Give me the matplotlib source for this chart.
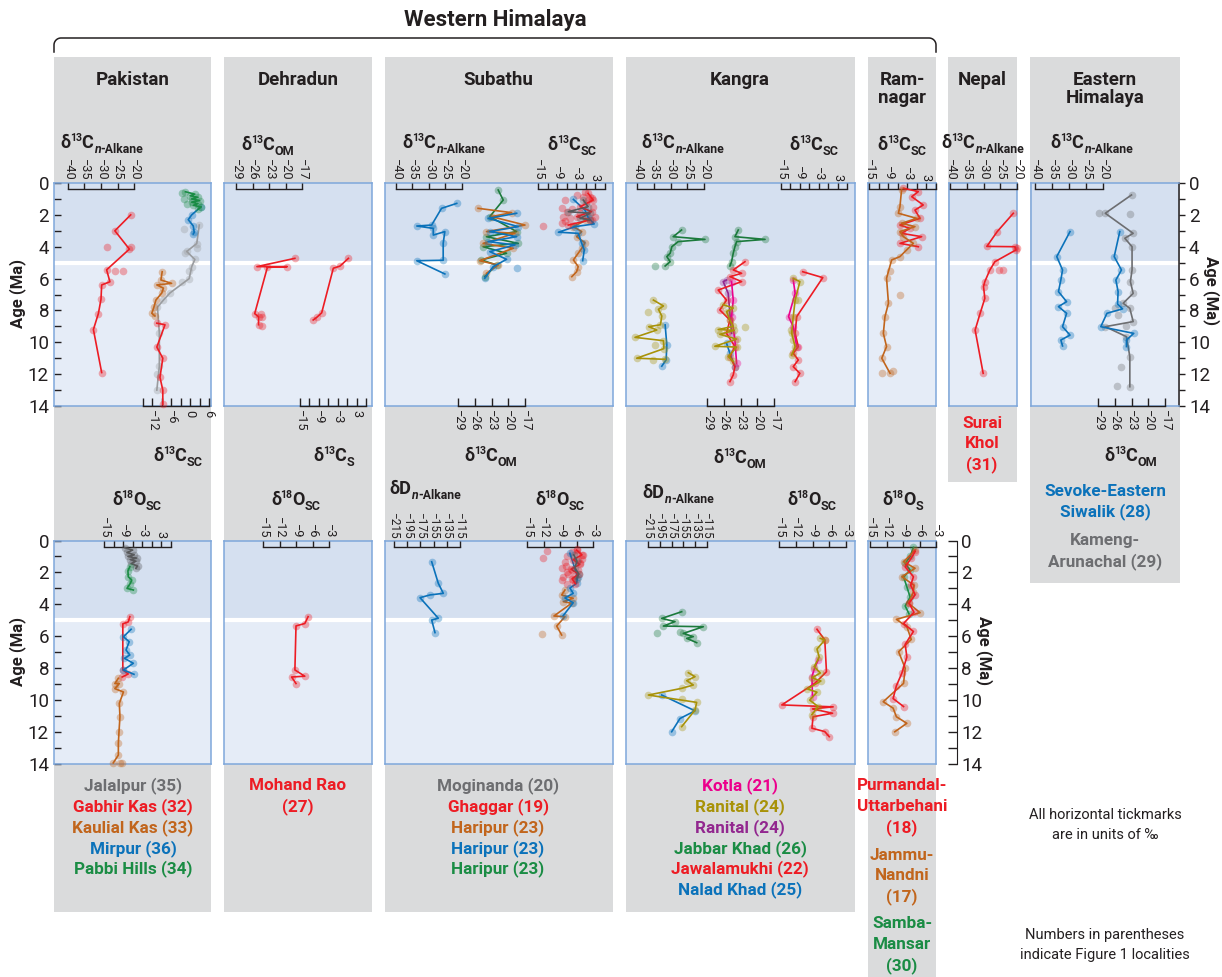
import matplotlib.pyplot as plt
from matplotlib.colors import to_rgba
import numpy as np

W, H = 1222, 977
PT = 0.72  # points per pixel at 100 dpi

plt.rcParams['font.family'] = ['Roboto', 'DejaVu Sans']

INK = '#231f20'
RED = '#ed1c24'
ORANGE = '#c1651c'
BLUE = '#0b72ba'
GREEN = '#1a8c44'
DKGREEN = '#1b7a3c'
GRAY = '#9a9c9f'
DKGRAY = '#58595b'
MIDGRAY = '#6d6e71'
MAGENTA = '#ec008c'
OLIVE = '#a89208'
PURPLE = '#92278f'
UPPER = '#d5e0f0'
LOWER = '#e5ecf7'
BORDER = '#7ea7db'
COLUMN = '#dadbdc'

# ---------------- upper row (carbon) ----------------
# Pakistan
PAK_GABHIR_NALK_AGE = [2.0, 3.0, 4.15, 5.45, 6.2, 6.4, 7.3, 8.2, 9.2, 11.9]
PAK_GABHIR_NALK_VAL = [-21.0, -25.8, -21.4, -28.3, -27.3, -29.8, -30.0, -30.8, -32.3, -29.8]
PAK_GABHIR_NALK_XAGE = [4.0, 4.0, 5.5, 5.5]
PAK_GABHIR_NALK_XVAL = [-28.3, -21.0, -23.2, -25.9]
PAK_JALALPUR_SC_AGE = [2.64, 3.8, 4.3, 4.8, 5.25, 6.0, 6.9, 7.35, 7.8, 9.4, 11.5, 13.0]
PAK_JALALPUR_SC_VAL = [2.9, 2.1, -1.1, 1.5, 0.5, -0.3, -6.4, -8.5, -10.4, -9.8, -9.8, -10.6]
PAK_JALALPUR_SC_XAGE = [2.9, 4.1, 4.4, 5.5, 6.2, 12.0]
PAK_JALALPUR_SC_XVAL = [-1.8, 2.1, -1.5, -0.5, -2.7, -10.6]
PAK_PABBI_SC_AGE = [0.55, 0.7, 0.8, 0.9, 1.0, 1.1, 1.2, 1.3, 1.4, 1.5, 1.65]
PAK_PABBI_SC_VAL = [-1.5, 1.5, 0.0, 2.5, 0.5, 3.0, 0.5, 2.5, 1.0, 3.5, 2.5]
PAK_PABBI_SC_XAGE = [0.6, 1.0, 1.3]
PAK_PABBI_SC_XVAL = [-2.5, -1.8, -1.0]
PAK_MIRPUR_SC_AGE = [1.5, 2.0, 2.3, 2.7, 3.1, 3.2]
PAK_MIRPUR_SC_VAL = [3.4, 0.5, -0.6, 1.0, 1.3, 1.0]
PAK_KAULIAL_SC_AGE = [5.57, 6.09, 6.3, 6.4, 6.6, 6.9, 7.35, 7.77, 8.18, 8.35]
PAK_KAULIAL_SC_VAL = [-8.9, -9.3, -5.9, -10.6, -8.5, -9.0, -10.9, -11.5, -12.2, -11.2]
PAK_GABHIR_SC_AGE = [8.8, 8.9, 10.3, 11.0, 12.2, 13.0, 13.9]
PAK_GABHIR_SC_VAL = [-10.6, -8.0, -10.6, -8.7, -9.6, -8.7, -8.7]

# Dehradun
DEH_MOHAND_OM_AGE = [4.73, 5.25, 5.25, 5.3, 8.2, 8.4, 8.9]
DEH_MOHAND_OM_VAL = [-18.3, -25.2, -19.7, -23.3, -25.6, -24.9, -24.9]
DEH_MOHAND_OM_XAGE = [8.2, 8.4, 9.0]
DEH_MOHAND_OM_XVAL = [-24.5, -24.3, -24.3]
DEH_MOHAND_S_AGE = [4.73, 5.22, 5.35, 8.15, 8.44, 8.6]
DEH_MOHAND_S_VAL = [0.4, -2.3, -4.4, -8.1, -9.7, -10.8]

# Subathu
SUB_HARIPUR_B_NALK_AGE = [1.28, 1.59, 2.64, 2.70, 2.85, 3.27, 3.05, 3.79, 4.85, 4.88, 5.71]
SUB_HARIPUR_B_NALK_VAL = [-21.6, -26.2, -29.2, -33.7, -28.7, -28.7, -25.2, -25.7, -25.7, -33.7, -25.2]
SUB_HARIPUR_G_OM_AGE = [0.44, 1.07, 2.11, 3.05, 3.37, 3.79, 4.00, 4.41, 4.83, 5.15, 5.88]
SUB_HARIPUR_G_OM_VAL = [-21.8, -20.9, -23.3, -18.5, -23.9, -18.2, -24.5, -20.3, -24.8, -22.1, -24.2]
SUB_HARIPUR_O_OM_AGE = [1.59, 1.86, 2.11, 2.64, 3.05, 3.16, 3.79, 4.10, 4.88, 5.15, 5.67]
SUB_HARIPUR_O_OM_VAL = [-25.4, -19.4, -23.0, -17.0, -23.9, -18.8, -24.5, -19.1, -25.1, -21.8, -23.9]
SUB_HARIPUR_B_OM_AGE = [1.90, 2.22, 2.74, 3.05, 3.37, 3.68, 3.89, 4.31, 4.79, 5.25, 5.98]
SUB_HARIPUR_B_OM_VAL = [-18.5, -23.6, -18.2, -23.3, -18.5, -23.6, -18.8, -23.3, -20.3, -22.7, -24.2]
SUB_HARIPUR_B_OM_XAGE = [5.36]
SUB_HARIPUR_B_OM_XVAL = [-18.4]
SUB_GHAGGAR_SC_AGE = [0.65, 1.07, 1.49, 1.80, 2.11, 2.32, 2.64]
SUB_GHAGGAR_SC_VAL = [0.7, 2.3, -1.8, 1.8, -2.9, 1.3, -5.5]
SUB_GHAGGAR_SC_XAGE = [0.54, 0.75, 0.86, 0.86, 1.07, 1.28, 1.49, 1.59, 1.80, 1.90, 2.01, 2.11,
                       2.11, 2.53, 2.64, 2.70, 1.07, 2.32, 2.22, 0.95, 1.65, 2.4]
SUB_GHAGGAR_SC_XVAL = [-0.3, -2.9, -0.8, 1.3, -6.5, 0.2, 2.3, -7.6, -6.0, -1.8, 0.2, 2.9,
                       -7.1, -7.6, -3.9, -13.3, 0.7, 1.8, -4.9, 1.8, -4.5, -6.5]
SUB_MOGINANDA_SC_AGE = [1.07, 1.49, 1.80, 1.90, 2.22, 2.32]
SUB_MOGINANDA_SC_VAL = [-0.8, 0.7, -5.5, 1.3, -1.8, 1.3]
SUB_HARIPUR_B_SC_AGE = [1.03, 1.70, 2.15, 2.57, 2.74, 3.09, 3.16, 3.79, 4.20, 4.88]
SUB_HARIPUR_B_SC_VAL = [-3.9, -0.3, 0.7, 2.6, -3.4, -8.6, -2.4, -1.3, -0.5, -1.0]
SUB_HARIPUR_O_SC_AGE = [2.32, 2.74, 3.05, 3.37, 3.75, 4.10, 4.41, 4.83, 5.25, 5.57, 5.88]
SUB_HARIPUR_O_SC_VAL = [0.2, -3.9, -1.3, -2.9, -0.3, -1.3, -2.4, -3.9, -2.4, -2.9, -4.4]

# Kangra
KAN_JABBAR_NALK_AGE = [2.95, 3.37, 3.54, 3.68, 4.00, 4.41, 4.62, 4.94, 5.21]
KAN_JABBAR_NALK_VAL = [-26.7, -29.2, -19.7, -27.7, -29.6, -30.1, -31.1, -30.1, -31.6]
KAN_JABBAR_NALK_XAGE = [5.19]
KAN_JABBAR_NALK_XVAL = [-34.6]
KAN_RANITAL_NALK_AGE = [7.35, 7.72, 7.93, 8.35, 8.9, 9.02, 9.23, 9.69, 9.9, 10.4, 11.0, 11.07]
KAN_RANITAL_NALK_VAL = [-35.1, -32.1, -33.6, -32.6, -33.0, -36.5, -34.1, -40.6, -32.1, -32.0, -40.1, -31.6]
KAN_RANITAL_NALK_XAGE = [8.07, 10.16, 11.1]
KAN_RANITAL_NALK_XVAL = [-36.6, -34.6, -35.1]
KAN_NALAD_NALK_AGE = [8.91, 10.16, 11.1, 11.5]
KAN_NALAD_NALK_VAL = [-31.6, -31.1, -31.3, -32.6]
KAN_JABBAR_OM_AGE = [2.95, 3.37, 3.54, 3.68, 4.00, 4.41, 4.94, 5.21]
KAN_JABBAR_OM_VAL = [-23.4, -24.0, -18.6, -23.7, -24.0, -24.3, -24.6, -24.9]
KAN_JAWALA_OM_AGE = [4.94, 5.46, 5.67, 5.88, 6.19, 6.72, 7.35, 7.97, 8.6, 9.44, 10.27, 10.9, 11.53, 12.05, 12.47]
KAN_JAWALA_OM_VAL = [-22.2, -24.3, -22.8, -24.9, -22.8, -27.0, -25.5, -26.7, -24.9, -25.5, -24.0, -24.9, -24.0, -24.3, -24.9]
KAN_RANITAL_P_OM_AGE = [6.09, 6.19, 6.93, 8.18, 9.44]
KAN_RANITAL_P_OM_VAL = [-25.5, -26.1, -25.2, -24.9, -24.6]
KAN_KOTLA_OM_AGE = [6.19, 7.35, 8.39, 9.86, 11.32]
KAN_KOTLA_OM_VAL = [-24.6, -24.3, -24.6, -24.0, -23.7]
KAN_RANITAL_OM_AGE = [7.64, 7.85, 8.07, 8.6, 9.0, 9.2, 9.25, 9.5, 9.8, 10.25, 10.3, 10.9, 11.2]
KAN_RANITAL_OM_VAL = [-26.1, -24.3, -25.5, -24.9, -24.3, -27.0, -24.1, -26.7, -23.7, -27.6, -23.7, -25.2, -24.3]
KAN_RANITAL_OM_XAGE = [9.02]
KAN_RANITAL_OM_XVAL = [-22.2]
KAN_NALAD_OM_AGE = [10.06, 10.69, 11.53]
KAN_NALAD_OM_VAL = [-25.5, -24.9, -24.0]
KAN_JAWALA_SC_AGE = [5.57, 5.94, 8.39, 9.44, 10.27, 10.69, 11.11, 11.53, 11.95, 12.47]
KAN_JAWALA_SC_VAL = [-8.1, -1.7, -10.0, -10.5, -9.5, -11.1, -9.5, -11.1, -9.0, -10.5]
KAN_KOTLA_SC_AGE = [6.09, 6.93, 8.39, 9.02, 10.27]
KAN_KOTLA_SC_VAL = [-11.1, -10.5, -12.6, -11.1, -10.0]
KAN_RANITAL_SC_AGE = [5.99, 6.19, 7.35, 8.39, 9.44, 10.27, 10.8]
KAN_RANITAL_SC_VAL = [-11.1, -9.0, -10.5, -11.1, -11.6, -10.5, -11.6]
KAN_RANITAL_SC_XAGE = [7.35, 9.2, 9.86]
KAN_RANITAL_SC_XVAL = [-9.5, -11.9, -11.1]

# Ramnagar
RAM_PURMANDAL_SC_AGE = [0.33, 0.54, 0.86, 1.38, 1.70, 2.22, 2.64, 2.85, 3.16, 3.37, 3.79, 4.00]
RAM_PURMANDAL_SC_VAL = [-4.2, 0.45, -1.6, 2.0, -0.6, 1.0, -5.3, -2.2, -4.8, 1.5, -5.3, 0.45]
RAM_JAMMU_SC_AGE = [0.44, 1.49, 1.90, 2.22, 2.53, 2.74, 3.05, 3.37, 3.79, 4.20, 4.62, 4.83,
                    5.98, 7.55, 8.39, 9.44, 10.27, 11.0, 11.95]
RAM_JAMMU_SC_VAL = [-4.8, -5.3, -5.8, -0.05, -4.8, -0.6, -5.3, -4.2, -1.1, -3.2, -5.3, -7.9,
                    -9.5, -8.9, -10.0, -10.5, -9.5, -11.0, -8.4]
RAM_JAMMU_SC_XAGE = [5.5, 7.0, 11.8, 11.95]
RAM_JAMMU_SC_XVAL = [-8.4, -5.3, -7.4, -11.0]

# Nepal
NEP_SURAI_NALK_AGE = [1.9, 3.05, 3.98, 4.0, 4.2, 4.94, 5.46, 6.19, 6.5, 7.24, 8.18, 9.23, 11.95]
NEP_SURAI_NALK_VAL = [-21.1, -25.9, -29.0, -20.6, -20.3, -26.6, -28.1, -29.6, -30.0, -29.6, -31.0, -32.5, -30.1]
NEP_SURAI_NALK_XAGE = [5.46, 5.46, 4.1]
NEP_SURAI_NALK_XVAL = [-24.1, -25.5, -20.0]

# Eastern Himalaya
EAS_SEVOKE_NALK_AGE = [3.05, 4.62, 5.46, 6.09, 6.82, 7.45, 7.76, 8.18, 9.02, 9.55, 9.86, 10.23]
EAS_SEVOKE_NALK_VAL = [-29.7, -33.6, -31.9, -32.4, -33.1, -30.7, -33.1, -30.7, -31.9, -29.7, -32.4, -31.9]
EAS_SEVOKE_OM_AGE = [3.05, 4.62, 5.46, 6.09, 6.82, 7.6, 7.9, 8.18, 9.02, 9.44, 9.86, 10.27]
EAS_SEVOKE_OM_VAL = [-25.1, -26.1, -24.8, -25.8, -25.4, -25.5, -24.6, -27.4, -28.5, -22.6, -23.9, -23.9]
EAS_KAMENG_OM_AGE = [0.75, 1.9, 3.16, 3.47, 4.0, 5.46, 6.19, 6.93, 7.55, 7.87, 8.7, 9.02, 9.65, 10.9, 12.79]
EAS_KAMENG_OM_VAL = [-23.0, -27.7, -22.7, -24.2, -22.9, -22.9, -23.2, -22.7, -24.5, -23.3, -22.7, -27.7, -23.9, -23.3, -23.3]
EAS_KAMENG_OM_XAGE = [1.9, 1.94, 7.87, 8.28, 11.53, 12.75, 9.0]
EAS_KAMENG_OM_XVAL = [-28.9, -23.3, -26.0, -25.4, -24.8, -25.6, -24.0]

# ---------------- lower row (oxygen and hydrogen) ----------------
PAK_JALALPUR_O18_AGE = [0.45, 0.6, 0.75, 0.9, 1.0, 1.1, 1.2, 1.3, 1.45, 1.6, 1.75]
PAK_JALALPUR_O18_VAL = [-8.5, -6.0, -7.8, -5.5, -7.5, -4.8, -6.8, -5.0, -6.5, -4.5, -5.0]
PAK_PABBI_O18_AGE = [1.64, 1.9, 2.27, 2.48, 2.7, 3.0, 3.1]
PAK_PABBI_O18_VAL = [-6.9, -7.5, -7.4, -6.3, -6.8, -7.8, -5.8]
PAK_GABHIR_O18_AGE = [4.77, 5.1, 5.22, 8.11, 8.36, 8.55]
PAK_GABHIR_O18_VAL = [-6.9, -7.4, -9.1, -9.1, -7.4, -9.3]
PAK_MIRPUR_O18_AGE = [5.56, 6.03, 6.34, 6.86, 7.17, 7.38, 7.69, 8.11, 8.38]
PAK_MIRPUR_O18_VAL = [-6.5, -8.9, -7.1, -8.1, -6.9, -8.6, -5.8, -8.9, -5.6]
PAK_KAULIAL_O18_AGE = [8.63, 8.96, 8.96, 9.28, 9.49, 10.2, 11.04, 11.98, 12.7, 13.44, 13.93]
PAK_KAULIAL_O18_VAL = [-10.5, -11.6, -10.2, -11.6, -8.9, -10.2, -10.0, -10.3, -10.5, -10.5, -12.1]
PAK_KAULIAL_O18_XAGE = [13.96, 13.96]
PAK_KAULIAL_O18_XVAL = [-9.3, -10.1]

DEH_MOHAND_O18_AGE = [4.77, 5.2, 5.35, 8.11, 8.5, 8.55, 8.96]
DEH_MOHAND_O18_VAL = [-6.8, -7.4, -9.0, -9.2, -7.4, -9.8, -9.0]

SUB_HARIPUR_B_DD_AGE = [1.33, 2.68, 3.31, 3.41, 3.58, 4.87, 4.98, 5.77]
SUB_HARIPUR_B_DD_VAL = [-157.9, -147.9, -140.3, -160.5, -175.6, -147.9, -157.9, -152.9]
SUB_GHAGGAR_O18_AGE = [0.6, 0.9, 1.2, 1.5, 1.8, 2.1, 2.4, 2.7]
SUB_GHAGGAR_O18_VAL = [-6.0, -5.0, -6.6, -5.4, -7.0, -5.6, -6.8, -6.2]
SUB_GHAGGAR_O18_XAGE = [0.64, 1.08, 1.7, 2.28, 1.15, 1.0, 0.8, 1.44, 2.5, 1.86, 2.07, 2.2,
                        1.33, 1.86, 2.7, 0.7, 0.9, 2.5, 1.6, 2.0, 1.2, 0.55]
SUB_GHAGGAR_O18_XVAL = [-11.4, -12.1, -8.7, -8.4, -5.0, -7.8, -6.0, -5.4, -8.7, -6.9, -7.5, -6.3,
                        -8.1, -5.8, -7.8, -6.9, -4.8, -6.6, -8.0, -7.8, -5.8, -5.9]
SUB_MOGINANDA_O18_AGE = [0.9, 1.3, 1.7, 2.1, 2.4]
SUB_MOGINANDA_O18_VAL = [-6.5, -5.9, -6.3, -5.6, -6.0]
SUB_HARIPUR_B_O18_AGE = [0.8, 2.28, 2.69, 2.98, 3.31, 3.6, 3.9, 4.7]
SUB_HARIPUR_B_O18_VAL = [-7.2, -5.8, -6.0, -7.2, -6.6, -8.1, -6.6, -8.4]
SUB_HARIPUR_O_O18_AGE = [3.1, 3.41, 3.62, 3.83, 3.93, 4.73, 4.77, 5.36, 5.92]
SUB_HARIPUR_O_O18_VAL = [-8.1, -8.7, -6.6, -8.4, -6.9, -10.1, -8.1, -9.6, -8.7]
SUB_HARIPUR_O_O18_XAGE = [5.88]
SUB_HARIPUR_O_O18_XVAL = [-12.3]

KAN_JABBAR_DD_AGE = [4.46, 4.88, 5.08, 5.36, 5.4, 5.82, 6.02, 6.13, 6.4]
KAN_JABBAR_DD_VAL = [-157.9, -191.8, -169.2, -189.0, -121.2, -155.2, -138.2, -149.4, -132.5]
KAN_JABBAR_DD_XAGE = [5.78, 5.72]
KAN_JABBAR_DD_XVAL = [-200.3, -160.8]
KAN_RANITAL_DD_AGE = [8.28, 8.53, 8.78, 9.05, 9.26, 9.68, 10.14, 10.62, 11.66]
KAN_RANITAL_DD_VAL = [-146.6, -135.3, -149.4, -138.2, -157.9, -214.4, -132.5, -135.3, -157.9]
KAN_RANITAL_DD_XAGE = [9.9]
KAN_RANITAL_DD_XVAL = [-158.0]
KAN_NALAD_DD_AGE = [9.68, 10.67, 11.15, 11.98]
KAN_NALAD_DD_VAL = [-191.8, -135.3, -160.8, -174.9]
KAN_JAWALA_O18_AGE = [5.56, 6.23, 8.22, 8.95, 10.3, 10.42, 10.55, 10.82, 11.04, 11.76, 11.97, 12.29]
KAN_JAWALA_O18_VAL = [-8.2, -6.8, -6.5, -8.6, -14.5, -5.3, -9.0, -5.4, -8.9, -9.1, -6.8, -6.0]
KAN_KOTLA_O18_AGE = [7.5, 8.07, 8.53, 9.79]
KAN_KOTLA_O18_VAL = [-8.0, -8.7, -9.1, -9.0]
KAN_RANITAL_O18_AGE = [6.13, 6.23, 6.8, 7.3, 7.9, 8.3, 8.6, 8.8, 9.3, 9.5, 10.0, 10.4, 10.9]
KAN_RANITAL_O18_VAL = [-7.6, -6.8, -8.2, -7.8, -8.7, -7.6, -9.1, -7.5, -9.9, -8.2, -9.5, -8.0, -9.1]

RAM_SAMBA_O18_AGE = [0.43, 1.0, 1.44, 1.86, 2.28, 2.9, 3.55, 4.1, 4.6]
RAM_SAMBA_O18_VAL = [-7.1, -7.7, -8.6, -7.7, -8.9, -8.3, -7.7, -8.6, -7.9]
RAM_JAMMU_O18_AGE = [0.6, 1.33, 1.74, 2.27, 2.8, 3.2, 3.93, 4.52, 4.94, 5.4, 6.2, 6.97, 8.0,
                     8.95, 10.1, 10.5, 11.04, 11.45, 11.98]
RAM_JAMMU_O18_VAL = [-6.8, -8.9, -6.8, -9.2, -7.0, -7.1, -8.0, -5.9, -10.2, -8.3, -7.5, -9.8, -8.6,
                     -8.9, -12.6, -10.8, -10.2, -8.3, -10.5]
RAM_PURMANDAL_O18_AGE = [0.69, 1.1, 1.65, 2.27, 2.8, 3.4, 3.93, 4.5, 5.2, 5.7, 6.5, 7.3, 8.3, 9.1, 9.9, 10.4]
RAM_PURMANDAL_O18_VAL = [-6.8, -7.5, -8.6, -7.1, -7.6, -6.8, -7.9, -7.0, -8.9, -7.1, -8.6, -8.3, -9.2, -10.2, -10.8, -8.9]

# tick sets for the isotope scales
NALK_TICKS = [-40, -35, -30, -25, -20]
OM_TICKS = [-29, -26, -23, -20, -17]
SC_TICKS = [-15, -12, -9, -6, -3, 0, 3, 6]
SC_LABELS = [-15, -9, -3, 3]
SC_LABELS_ALT = [-12, -6, 0, 6]
O18_TICKS = [-15, -12, -9, -6, -3]
DD_TICKS = [-215, -195, -175, -155, -135, -115]

# locality names under each column
PAK_NAMES = [('Jalalpur (35)', MIDGRAY), ('Gabhir Kas (32)', RED), ('Kaulial Kas (33)', ORANGE),
             ('Mirpur (36)', BLUE), ('Pabbi Hills (34)', GREEN)]
DEH_NAMES = [('Mohand Rao', RED), ('(27)', RED)]
SUB_NAMES = [('Moginanda (20)', MIDGRAY), ('Ghaggar (19)', RED), ('Haripur (23)', ORANGE),
             ('Haripur (23)', BLUE), ('Haripur (23)', GREEN)]
KAN_NAMES = [('Kotla (21)', MAGENTA), ('Ranital (24)', OLIVE), ('Ranital (24)', PURPLE),
             ('Jabbar Khad (26)', GREEN), ('Jawalamukhi (22)', RED), ('Nalad Khad (25)', BLUE)]
RAM_NAMES_A = [('Purmandal-', RED), ('Uttarbehani', RED), ('(18)', RED)]
RAM_NAMES_B = [('Jammu-', ORANGE), ('Nandni', ORANGE), ('(17)', ORANGE)]
RAM_NAMES_C = [('Samba-', GREEN), ('Mansar', GREEN), ('(30)', GREEN)]
NEP_NAMES = [('Surai', RED), ('Khol', RED), ('(31)', RED)]
EAS_NAMES_A = [('Sevoke-Eastern', BLUE), ('Siwalik (28)', BLUE)]
EAS_NAMES_B = [('Kameng-', MIDGRAY), ('Arunachal (29)', MIDGRAY)]

fig = plt.figure(figsize=(W / 100, H / 100), dpi=100)
canvas = fig.add_axes([0, 0, 1, 1])
canvas.set_xlim(0, W)
canvas.set_ylim(H, 0)
canvas.axis('off')


def fig_box(x0, y0, x1, y1):
    return [x0 / W, 1 - y1 / H, (x1 - x0) / W, (y1 - y0) / H]


TOP = (183, 406)
BOT = (540.5, 764)

# grey columns behind each locality
for x0, x1, y1 in [(54, 211, 912), (224, 372, 912), (385, 613, 912), (626, 855, 912),
                   (868, 936, 977), (948, 1017, 482), (1030, 1180, 583)]:
    canvas.add_patch(plt.Rectangle((x0, 57), x1 - x0, y1 - 57, color=COLUMN, lw=0))


def panel(x0, x1, yr, side=None):
    ax = fig.add_axes(fig_box(x0, yr[0], x1, yr[1]))
    ax.set_xlim(0, 1)
    ax.set_ylim(14, 0)
    ax.set_facecolor(LOWER)
    ax.axhspan(0, 5, color=UPPER, lw=0)
    ax.axhline(5, color='white', lw=3)
    for s in ax.spines.values():
        s.set_color(BORDER)
        s.set_linewidth(1.1)
    ax.set_xticks([])
    if side is None:
        ax.set_yticks([])
        return ax
    ax.set_yticks(range(0, 15, 2))
    ax.set_yticks(range(1, 14, 2), minor=True)
    if side == 'left':
        ax.tick_params(axis='y', which='both', direction='in', length=7 * PT, width=1.0,
                       color=INK, labelsize=13.5, labelcolor=INK, pad=5 * PT)
    else:
        ax.yaxis.tick_right()
        ax.spines['right'].set_color(INK)
        ax.tick_params(axis='y', which='both', direction='out', length=6 * PT, width=1.0,
                       color=INK, labelsize=13.5, labelcolor=INK, pad=4 * PT)
    return ax


def scale(x0, x1, yr, lo, hi, ticks, shown, side):
    ax = fig.add_axes(fig_box(x0, yr[0], x1, yr[1]))
    ax.set_xlim(lo, hi)
    ax.set_ylim(14, 0)
    ax.patch.set_visible(False)
    for name, s in ax.spines.items():
        s.set_visible(name == side)
    ax.spines[side].set_color(INK)
    ax.spines[side].set_linewidth(1.0)
    ax.set_yticks([])
    if side == 'top':
        ax.xaxis.tick_top()
        ax.spines['top'].set_position(('outward', -6 * PT))
    ax.set_xticks(ticks)
    ax.set_xticklabels([f'{t}'.replace('-', '\u2212') if t in shown else '' for t in ticks])
    fs = 8.5 if lo < -100 else 9.2
    if side == 'top':
        ax.tick_params(axis='x', direction='out', length=6 * PT, width=1.0, color=INK,
                       labelsize=fs, labelcolor=INK, pad=1.5, labelrotation=270)
    else:
        ax.tick_params(axis='x', direction='in', length=8 * PT, width=1.0, color=INK,
                       labelsize=fs, labelcolor=INK, pad=3, labelrotation=270)
    return ax


def trace(ax, ages, vals, color, lw=1.2):
    ax.plot(vals, ages, color=color, lw=lw, marker='o', ms=5.5,
            mfc=to_rgba(color, 0.35), mec='none', clip_on=False, zorder=3)


def dots(ax, ages, vals, color):
    ax.plot(vals, ages, ls='none', marker='o', ms=5.5,
            mfc=to_rgba(color, 0.35), mec='none', clip_on=False, zorder=2)


TITLES = []


def iso_title(cx, base, sup, elem, sub, size=13, italic_n=False):
    t0 = canvas.text(cx, base, '\u03b4', fontsize=size, weight='bold', color=INK,
                     ha='left', va='baseline')
    pieces = [(sup, size * 0.58, size * 0.5, 'normal', -0.6), (elem, size, 0, 'normal', -0.2)]
    if italic_n:
        pieces += [('n', size * 0.68, -size * 0.2, 'italic', 0.2),
                   ('-Alkane', size * 0.68, -size * 0.2, 'normal', 0.1)]
    else:
        pieces += [(sub, size * 0.7, -size * 0.2, 'normal', 0.2)]
    group = [t0]
    prev = t0
    for txt, fs, dy, style, dx in pieces:
        t = canvas.annotate(txt, xy=(1, 0), xycoords=(prev, t0), xytext=(dx, dy),
                            textcoords='offset points', fontsize=fs, weight='bold',
                            style=style, color=INK, ha='left', va='bottom')
        group.append(t)
        prev = t
    TITLES.append((group, cx))


# ---------- upper row ----------
panel(54, 211, TOP, side='left')
ax = scale(68, 134, TOP, -40, -20, NALK_TICKS, NALK_TICKS, 'top')
trace(ax, PAK_GABHIR_NALK_AGE, PAK_GABHIR_NALK_VAL, RED)
dots(ax, PAK_GABHIR_NALK_XAGE, PAK_GABHIR_NALK_XVAL, RED)
ax = scale(143, 209, TOP, -15, 6, SC_TICKS, SC_LABELS_ALT, 'bottom')
trace(ax, PAK_JALALPUR_SC_AGE, PAK_JALALPUR_SC_VAL, GRAY)
dots(ax, PAK_JALALPUR_SC_XAGE, PAK_JALALPUR_SC_XVAL, GRAY)
trace(ax, PAK_KAULIAL_SC_AGE, PAK_KAULIAL_SC_VAL, ORANGE)
trace(ax, PAK_GABHIR_SC_AGE, PAK_GABHIR_SC_VAL, RED)
trace(ax, PAK_MIRPUR_SC_AGE, PAK_MIRPUR_SC_VAL, BLUE)
trace(ax, PAK_PABBI_SC_AGE, PAK_PABBI_SC_VAL, GREEN)
dots(ax, PAK_PABBI_SC_XAGE, PAK_PABBI_SC_XVAL, GREEN)

panel(224, 372, TOP)
ax = scale(236, 302, TOP, -29, -17, OM_TICKS, OM_TICKS, 'top')
trace(ax, DEH_MOHAND_OM_AGE, DEH_MOHAND_OM_VAL, RED)
dots(ax, DEH_MOHAND_OM_XAGE, DEH_MOHAND_OM_XVAL, RED)
ax = scale(300, 366, TOP, -15, 6, SC_TICKS, SC_LABELS, 'bottom')
trace(ax, DEH_MOHAND_S_AGE, DEH_MOHAND_S_VAL, RED)

panel(385, 613, TOP)
ax = scale(396, 462, TOP, -40, -20, NALK_TICKS, NALK_TICKS, 'top')
trace(ax, SUB_HARIPUR_B_NALK_AGE, SUB_HARIPUR_B_NALK_VAL, BLUE)
ax = scale(458, 525, TOP, -29, -17, OM_TICKS, OM_TICKS, 'bottom')
trace(ax, SUB_HARIPUR_G_OM_AGE, SUB_HARIPUR_G_OM_VAL, DKGREEN)
trace(ax, SUB_HARIPUR_O_OM_AGE, SUB_HARIPUR_O_OM_VAL, ORANGE)
trace(ax, SUB_HARIPUR_B_OM_AGE, SUB_HARIPUR_B_OM_VAL, BLUE)
dots(ax, SUB_HARIPUR_B_OM_XAGE, SUB_HARIPUR_B_OM_XVAL, BLUE)
ax = scale(538, 605, TOP, -15, 6, SC_TICKS, SC_LABELS, 'top')
dots(ax, SUB_GHAGGAR_SC_XAGE, SUB_GHAGGAR_SC_XVAL, RED)
trace(ax, SUB_HARIPUR_O_SC_AGE, SUB_HARIPUR_O_SC_VAL, ORANGE)
trace(ax, SUB_HARIPUR_B_SC_AGE, SUB_HARIPUR_B_SC_VAL, BLUE)
trace(ax, SUB_GHAGGAR_SC_AGE, SUB_GHAGGAR_SC_VAL, RED)
trace(ax, SUB_MOGINANDA_SC_AGE, SUB_MOGINANDA_SC_VAL, DKGRAY)

panel(626, 855, TOP)
ax = scale(637, 704, TOP, -40, -20, NALK_TICKS, NALK_TICKS, 'top')
trace(ax, KAN_JABBAR_NALK_AGE, KAN_JABBAR_NALK_VAL, DKGREEN)
dots(ax, KAN_JABBAR_NALK_XAGE, KAN_JABBAR_NALK_XVAL, DKGREEN)
trace(ax, KAN_NALAD_NALK_AGE, KAN_NALAD_NALK_VAL, BLUE)
trace(ax, KAN_RANITAL_NALK_AGE, KAN_RANITAL_NALK_VAL, OLIVE)
dots(ax, KAN_RANITAL_NALK_XAGE, KAN_RANITAL_NALK_XVAL, OLIVE)
ax = scale(707, 774, TOP, -29, -17, OM_TICKS, OM_TICKS, 'bottom')
trace(ax, KAN_JABBAR_OM_AGE, KAN_JABBAR_OM_VAL, DKGREEN)
trace(ax, KAN_NALAD_OM_AGE, KAN_NALAD_OM_VAL, BLUE)
trace(ax, KAN_RANITAL_P_OM_AGE, KAN_RANITAL_P_OM_VAL, PURPLE)
trace(ax, KAN_JAWALA_OM_AGE, KAN_JAWALA_OM_VAL, RED)
trace(ax, KAN_KOTLA_OM_AGE, KAN_KOTLA_OM_VAL, MAGENTA)
trace(ax, KAN_RANITAL_OM_AGE, KAN_RANITAL_OM_VAL, OLIVE)
dots(ax, KAN_RANITAL_OM_XAGE, KAN_RANITAL_OM_XVAL, OLIVE)
ax = scale(781, 847, TOP, -15, 6, SC_TICKS, SC_LABELS, 'top')
trace(ax, KAN_JAWALA_SC_AGE, KAN_JAWALA_SC_VAL, RED)
trace(ax, KAN_KOTLA_SC_AGE, KAN_KOTLA_SC_VAL, MAGENTA)
trace(ax, KAN_RANITAL_SC_AGE, KAN_RANITAL_SC_VAL, OLIVE)
dots(ax, KAN_RANITAL_SC_XAGE, KAN_RANITAL_SC_XVAL, OLIVE)

panel(868, 936, TOP)
ax = scale(869, 936, TOP, -15, 6, SC_TICKS, SC_LABELS, 'top')
trace(ax, RAM_PURMANDAL_SC_AGE, RAM_PURMANDAL_SC_VAL, RED)
trace(ax, RAM_JAMMU_SC_AGE, RAM_JAMMU_SC_VAL, ORANGE)
dots(ax, RAM_JAMMU_SC_XAGE, RAM_JAMMU_SC_XVAL, ORANGE)

panel(949, 1017, TOP)
ax = scale(950, 1017, TOP, -40, -20, NALK_TICKS, NALK_TICKS, 'top')
trace(ax, NEP_SURAI_NALK_AGE, NEP_SURAI_NALK_VAL, RED)
dots(ax, NEP_SURAI_NALK_XAGE, NEP_SURAI_NALK_XVAL, RED)

panel(1031, 1179, TOP, side='right')
ax = scale(1035, 1103, TOP, -40, -20, NALK_TICKS, NALK_TICKS, 'top')
trace(ax, EAS_SEVOKE_NALK_AGE, EAS_SEVOKE_NALK_VAL, BLUE)
ax = scale(1098, 1165, TOP, -29, -17, OM_TICKS, OM_TICKS, 'bottom')
dots(ax, EAS_KAMENG_OM_XAGE, EAS_KAMENG_OM_XVAL, MIDGRAY)
trace(ax, EAS_KAMENG_OM_AGE, EAS_KAMENG_OM_VAL, MIDGRAY)
trace(ax, EAS_SEVOKE_OM_AGE, EAS_SEVOKE_OM_VAL, BLUE)

# ---------- lower row ----------
panel(54, 211, BOT, side='left')
ax = scale(104, 171, BOT, -15, 6, SC_TICKS, SC_LABELS, 'top')
trace(ax, PAK_JALALPUR_O18_AGE, PAK_JALALPUR_O18_VAL, DKGRAY)
trace(ax, PAK_PABBI_O18_AGE, PAK_PABBI_O18_VAL, GREEN)
trace(ax, PAK_GABHIR_O18_AGE, PAK_GABHIR_O18_VAL, RED)
trace(ax, PAK_MIRPUR_O18_AGE, PAK_MIRPUR_O18_VAL, BLUE)
trace(ax, PAK_KAULIAL_O18_AGE, PAK_KAULIAL_O18_VAL, ORANGE)
dots(ax, PAK_KAULIAL_O18_XAGE, PAK_KAULIAL_O18_XVAL, ORANGE)

panel(224, 372, BOT)
ax = scale(263, 329, BOT, -15, -3, O18_TICKS, O18_TICKS, 'top')
trace(ax, DEH_MOHAND_O18_AGE, DEH_MOHAND_O18_VAL, RED)

panel(385, 613, BOT)
ax = scale(394, 460, BOT, -215, -115, DD_TICKS, DD_TICKS, 'top')
trace(ax, SUB_HARIPUR_B_DD_AGE, SUB_HARIPUR_B_DD_VAL, BLUE)
ax = scale(527, 593, BOT, -15, -3, O18_TICKS, O18_TICKS, 'top')
trace(ax, SUB_HARIPUR_O_O18_AGE, SUB_HARIPUR_O_O18_VAL, ORANGE)
dots(ax, SUB_HARIPUR_O_O18_XAGE, SUB_HARIPUR_O_O18_XVAL, ORANGE)
trace(ax, SUB_HARIPUR_B_O18_AGE, SUB_HARIPUR_B_O18_VAL, BLUE)
dots(ax, SUB_GHAGGAR_O18_XAGE, SUB_GHAGGAR_O18_XVAL, RED)
trace(ax, SUB_GHAGGAR_O18_AGE, SUB_GHAGGAR_O18_VAL, RED)
trace(ax, SUB_MOGINANDA_O18_AGE, SUB_MOGINANDA_O18_VAL, DKGRAY)

panel(626, 855, BOT)
ax = scale(648, 707, BOT, -215, -115, DD_TICKS, DD_TICKS, 'top')
trace(ax, KAN_JABBAR_DD_AGE, KAN_JABBAR_DD_VAL, DKGREEN)
dots(ax, KAN_JABBAR_DD_XAGE, KAN_JABBAR_DD_XVAL, DKGREEN)
trace(ax, KAN_NALAD_DD_AGE, KAN_NALAD_DD_VAL, BLUE)
trace(ax, KAN_RANITAL_DD_AGE, KAN_RANITAL_DD_VAL, OLIVE)
dots(ax, KAN_RANITAL_DD_XAGE, KAN_RANITAL_DD_XVAL, OLIVE)
ax = scale(779, 846, BOT, -15, -3, O18_TICKS, O18_TICKS, 'top')
trace(ax, KAN_JAWALA_O18_AGE, KAN_JAWALA_O18_VAL, RED)
trace(ax, KAN_KOTLA_O18_AGE, KAN_KOTLA_O18_VAL, MAGENTA)
trace(ax, KAN_RANITAL_O18_AGE, KAN_RANITAL_O18_VAL, OLIVE)

panel(868, 936, BOT)
ax = scale(870, 936, BOT, -15, -3, O18_TICKS, O18_TICKS, 'top')
trace(ax, RAM_SAMBA_O18_AGE, RAM_SAMBA_O18_VAL, GREEN)
trace(ax, RAM_JAMMU_O18_AGE, RAM_JAMMU_O18_VAL, ORANGE)
trace(ax, RAM_PURMANDAL_O18_AGE, RAM_PURMANDAL_O18_VAL, RED)

# stand-alone age axis to the right of the lower row
rax = fig.add_axes(fig_box(947, BOT[0], 957, BOT[1]))
rax.set_ylim(14, 0)
rax.patch.set_visible(False)
for name, s in rax.spines.items():
    s.set_visible(name == 'right')
rax.spines['right'].set_color(INK)
rax.set_xticks([])
rax.yaxis.tick_right()
rax.set_yticks(range(0, 15, 2))
rax.set_yticks(range(1, 14, 2), minor=True)
rax.tick_params(axis='y', which='both', direction='in', length=9 * PT, width=1.0,
                color=INK, labelsize=13.5, labelcolor=INK, pad=4 * PT)

# axis titles for the isotope scales
iso_title(102, 148, '13', 'C', None, italic_n=True)
iso_title(268, 150, '13', 'C', 'OM')
iso_title(444, 148, '13', 'C', None, italic_n=True)
iso_title(572, 150, '13', 'C', 'SC')
iso_title(683, 148, '13', 'C', None, italic_n=True)
iso_title(814, 150, '13', 'C', 'SC')
iso_title(902, 150, '13', 'C', 'SC')
iso_title(983, 148, '13', 'C', None, italic_n=True)
iso_title(1092, 148, '13', 'C', None, italic_n=True)
iso_title(178, 461, '13', 'C', 'SC')
iso_title(334, 461, '13', 'C', 'S')
iso_title(491, 461, '13', 'C', 'OM')
iso_title(740, 463, '13', 'C', 'OM')
iso_title(1131, 461, '13', 'C', 'OM')
iso_title(137, 505, '18', 'O', 'SC')
iso_title(296, 505, '18', 'O', 'SC')
iso_title(560, 505, '18', 'O', 'SC')
iso_title(812, 505, '18', 'O', 'SC')
iso_title(903, 505, '18', 'O', 'S')

# dD titles have no superscript
for cx, base in [(425, 494), (678, 498)]:
    t0 = canvas.text(cx, base, '\u03b4D', fontsize=13, weight='bold', color=INK,
                     ha='left', va='baseline')
    t1 = canvas.annotate('n', xy=(1, 0), xycoords=(t0, t0), xytext=(0.3, -2.6),
                         textcoords='offset points', fontsize=8.8, weight='bold',
                         style='italic', color=INK, ha='left', va='bottom')
    t2 = canvas.annotate('-Alkane', xy=(1, 0), xycoords=(t1, t0), xytext=(0.1, -2.6),
                         textcoords='offset points', fontsize=8.8, weight='bold',
                         color=INK, ha='left', va='bottom')
    TITLES.append(([t0, t1, t2], cx))

# age labels
canvas.text(18, 293, 'Age (Ma)', rotation=90, fontsize=12, weight='bold', color=INK,
            ha='center', va='center')
canvas.text(18, 652, 'Age (Ma)', rotation=90, fontsize=12, weight='bold', color=INK,
            ha='center', va='center')
canvas.text(1211, 291, 'Age (Ma)', rotation=270, fontsize=12, weight='bold', color=INK,
            ha='center', va='center')
canvas.text(984, 650, 'Age (Ma)', rotation=270, fontsize=12, weight='bold', color=INK,
            ha='center', va='center')

# column headers
for cx, cy, txt in [(133, 80, 'Pakistan'), (298, 80, 'Dehradun'), (498, 80, 'Subathu'),
                    (740, 80, 'Kangra'), (902, 80, 'Ram-'), (902, 98, 'nagar'),
                    (982, 80, 'Nepal'), (1105, 80, 'Eastern'), (1105, 98, 'Himalaya')]:
    canvas.text(cx, cy, txt, fontsize=13.5, weight='bold', color=INK, ha='center', va='center')

canvas.text(495, 20, 'Western Himalaya', fontsize=16, weight='bold', color=INK,
            ha='center', va='center')

# bracket over the western columns
r = 7
t = np.linspace(0, np.pi / 2, 15)
bx = np.concatenate([[54], 54 + r - r * np.cos(t), 936 - r + r * np.sin(t), [936]])
by = np.concatenate([[52], 38 + r - r * np.sin(t), 38 + r - r * np.cos(t), [52]])
canvas.plot(bx, by, color=INK, lw=1.1)


def names(cx, y0, items, step=20.7):
    for i, (txt, col) in enumerate(items):
        canvas.text(cx, y0 + i * step, txt, fontsize=12.3, weight='bold', color=col,
                    ha='center', va='center')


names(133, 786, PAK_NAMES)
names(298, 786, DEH_NAMES)
names(498, 786, SUB_NAMES)
names(740, 786, KAN_NAMES)
names(902, 786, RAM_NAMES_A)
names(902, 855, RAM_NAMES_B)
names(902, 924, RAM_NAMES_C)
names(982, 423, NEP_NAMES)
names(1105, 491, EAS_NAMES_A)
names(1105, 541, EAS_NAMES_B)

for cy, txt in [(815, 'All horizontal tickmarks'), (835, 'are in units of \u2030'),
                (935, 'Numbers in parentheses'), (955, 'indicate Figure 1 localities')]:
    canvas.text(1105, cy, txt, fontsize=10.5, color=INK, ha='center', va='center')

# centre the composed isotope titles on their scales
fig.canvas.draw()
renderer = fig.canvas.get_renderer()
for group, cx in TITLES:
    boxes = [g.get_window_extent(renderer) for g in group]
    width = max(b.x1 for b in boxes) - min(b.x0 for b in boxes)
    group[0].set_x(cx - width / 2)

fig.savefig('out.png', dpi=100)
